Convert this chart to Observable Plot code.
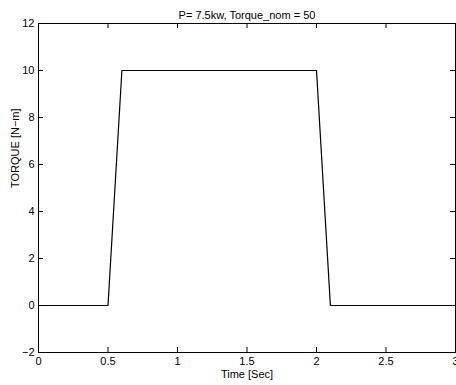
<!DOCTYPE html>
<html>
<head>
<meta charset="utf-8">
<script src="https://cdn.jsdelivr.net/npm/d3@7"></script>
<script src="https://cdn.jsdelivr.net/npm/@observablehq/plot@0.6"></script>
<style>
  html, body { margin: 0; padding: 0; background: #fff; }
</style>
</head>
<body>
<div id="chart"></div>
<script>
const timeValues = [0, 0.5, 0.6, 2.0, 2.1, 3];
const torqueValues = [0, 0, 10, 10, 0, 0];
const xTicks = [0, 0.5, 1, 1.5, 2, 2.5, 3];
const yTicks = [-2, 0, 2, 4, 6, 8, 10, 12];
const titleText = "P= 7.5kw, Torque_nom = 50";
const xLabel = "Time [Sec]";
const yLabel = "TORQUE [N\u2212m]";

const data = timeValues.map((t, i) => ({t, v: torqueValues[i]}));
const font = "'Liberation Sans', Arial, Helvetica, sans-serif";
const W = 456, H = 385, ML = 38, MR = 1, MT = 23, MB = 33;
const frameW = W - ML - MR, frameH = H - MT - MB, tk = 5;

const chart = Plot.plot({
  width: W,
  height: H,
  marginLeft: ML,
  marginRight: MR,
  marginTop: MT,
  marginBottom: MB,
  style: {fontFamily: font, fontSize: "11px", color: "black", background: "white"},
  x: {domain: [0, 3]},
  y: {domain: [-2, 12]},
  marks: [
    Plot.axisX({anchor: "bottom", ticks: xTicks, tickSize: 0, tickPadding: 5, label: null, tickFormat: d => String(d)}),
    Plot.axisY({anchor: "left", ticks: yTicks, tickSize: 0, tickPadding: 4, label: null, tickFormat: d => d < 0 ? "\u2212" + Math.abs(d) : String(d)}),
    Plot.tickX(xTicks, {x: d => d, insetTop: frameH - tk, stroke: "black"}),
    Plot.tickX(xTicks, {x: d => d, insetBottom: frameH - tk, stroke: "black"}),
    Plot.tickY(yTicks, {y: d => d, insetRight: frameW - tk, stroke: "black"}),
    Plot.tickY(yTicks, {y: d => d, insetLeft: frameW - tk, stroke: "black"}),
    Plot.frame({stroke: "black", strokeWidth: 1}),
    Plot.line(data, {x: "t", y: "v", stroke: "black", strokeWidth: 1.2}),
    Plot.text([titleText], {frameAnchor: "top", dy: -12, text: d => d, fontSize: 11}),
    Plot.text([xLabel], {frameAnchor: "bottom", dy: 25, text: d => d, fontSize: 11}),
    Plot.text([yLabel], {frameAnchor: "left", dx: -23, rotate: -90, text: d => d, fontSize: 11})
  ]
});
document.getElementById("chart").appendChild(chart);
</script>
</body>
</html>
